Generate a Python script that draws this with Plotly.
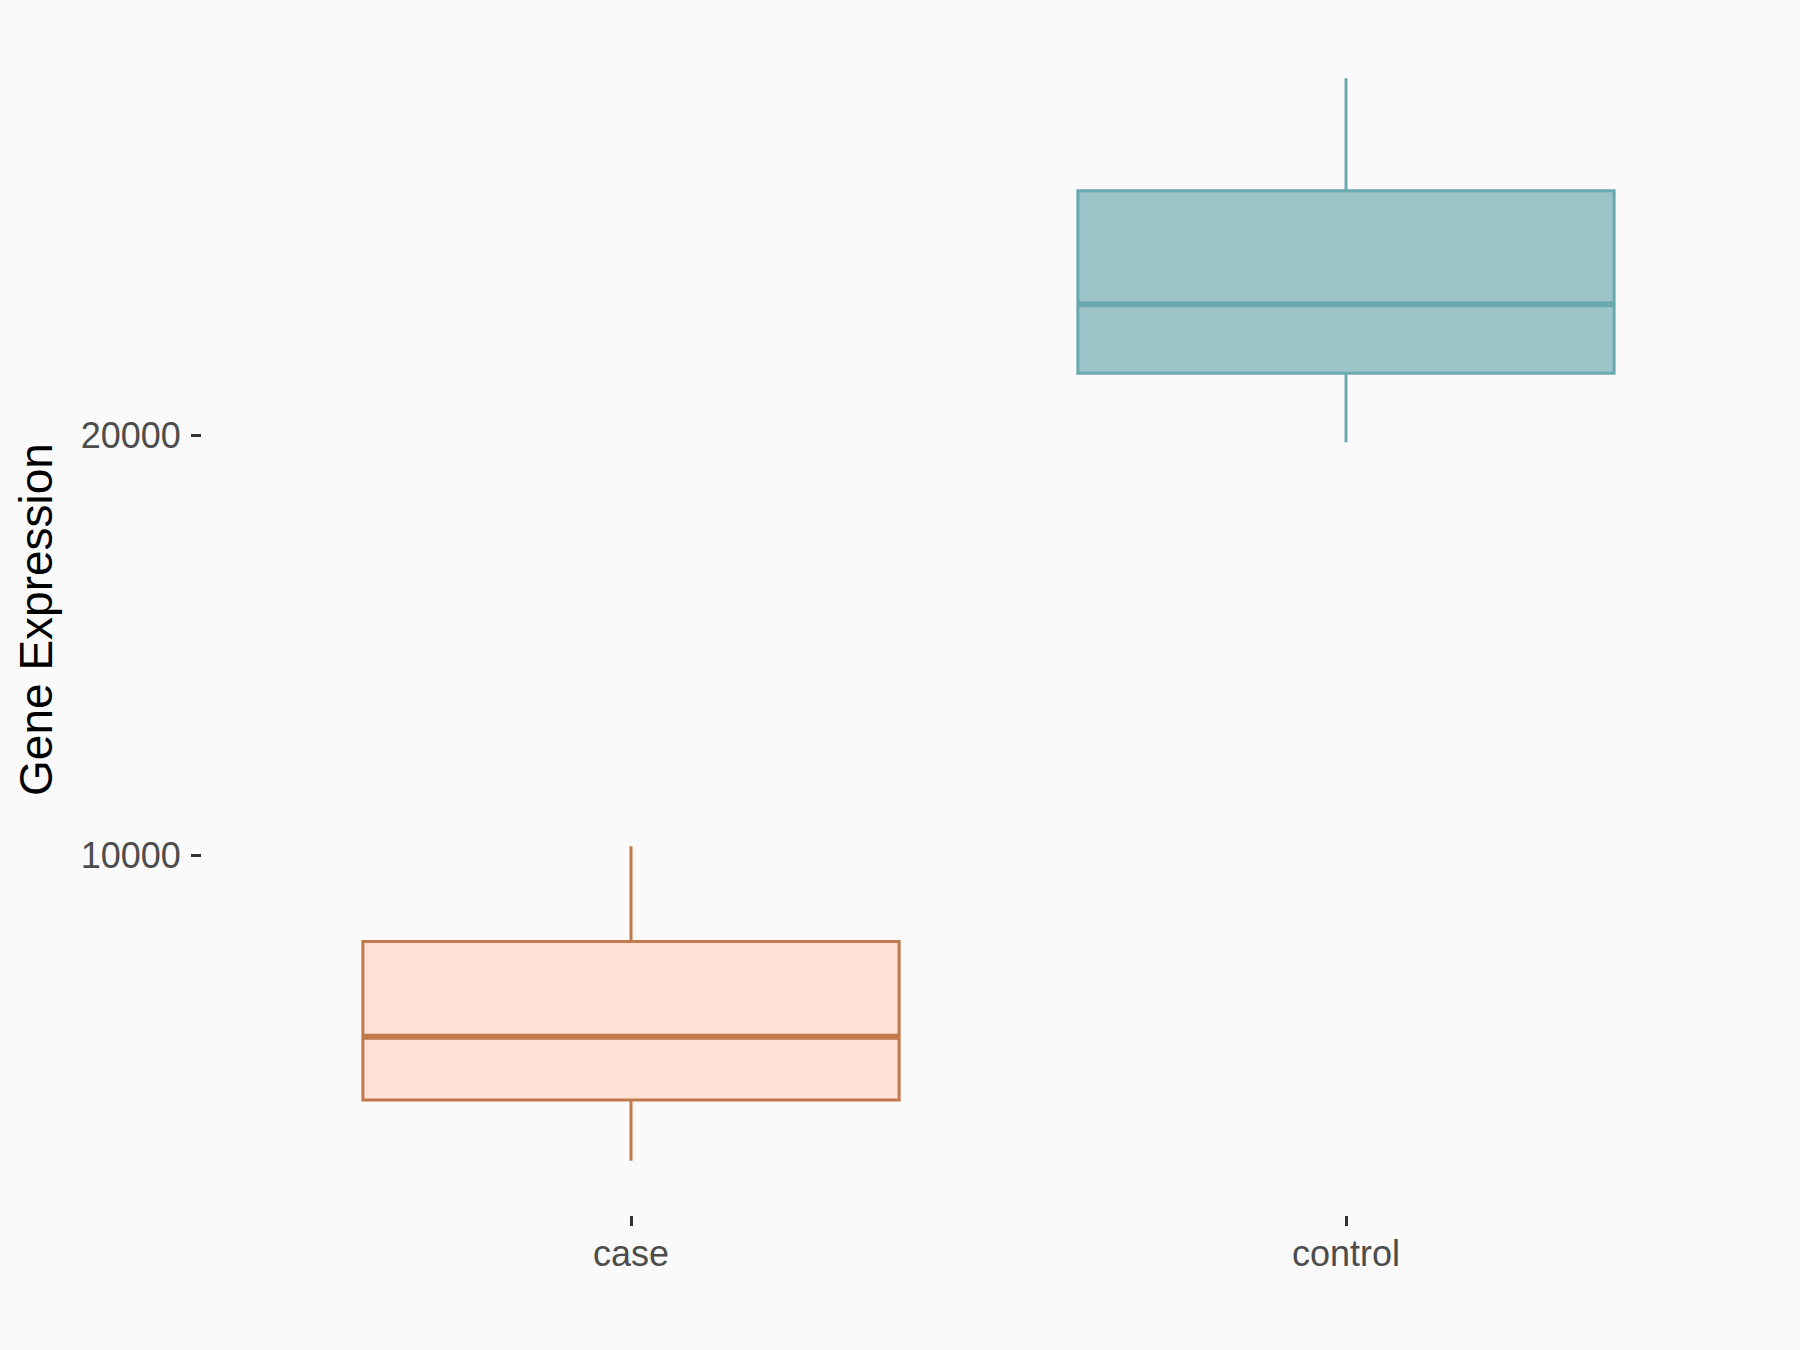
import plotly.graph_objects as go

# box statistics
groups = ["case", "control"]
lower_whisker = [2737, 19833]
q1 = [4183, 21473]
median = [5687, 23112]
q3 = [7952, 25814]
upper_whisker = [10221, 28491]

fill_colors = ["#FEE0D5", "#9DC4C8"]
line_colors = ["#C1784A", "#6AA9B0"]
box_width = 0.75

fig = go.Figure()
for i, name in enumerate(groups):
    pos = i + 1
    fig.add_trace(
        go.Box(
            x=[pos],
            q1=[q1[i]],
            median=[median[i]],
            q3=[q3[i]],
            lowerfence=[lower_whisker[i]],
            upperfence=[upper_whisker[i]],
            name=name,
            width=box_width,
            whiskerwidth=0,
            fillcolor=fill_colors[i],
            line={"color": line_colors[i], "width": 3},
            boxpoints=False,
            hoverinfo="y",
        )
    )
    # thicker median bar, as in ggplot
    fig.add_trace(
        go.Scatter(
            x=[pos - box_width / 2, pos + box_width / 2],
            y=[median[i], median[i]],
            mode="lines",
            line={"color": line_colors[i], "width": 6},
            hoverinfo="skip",
        )
    )

lo = min(lower_whisker)
hi = max(upper_whisker)
pad = 0.05 * (hi - lo)

fig.update_layout(
    width=1800,
    height=1350,
    showlegend=False,
    paper_bgcolor="#FAFAFA",
    plot_bgcolor="#FAFAFA",
    margin={"l": 202, "r": 25, "t": 24, "b": 135},
    font={"family": "Liberation Sans, Arial, sans-serif", "color": "#4D4D4D", "size": 36},
)
fig.update_xaxes(
    range=[0.4, 2.6],
    tickvals=[1, 2],
    ticktext=groups,
    showgrid=False,
    zeroline=False,
    showline=False,
    ticks="outside",
    ticklen=10,
    tickwidth=2.5,
    tickcolor="#333333",
    ticklabelstandoff=-3,
)
fig.update_yaxes(
    range=[lo - pad, hi + pad],
    tickvals=[10000, 20000],
    tickformat="d",
    showgrid=False,
    zeroline=False,
    showline=False,
    ticks="outside",
    ticklen=10,
    tickwidth=2.5,
    tickcolor="#333333",
    ticklabelstandoff=3,
    title={"text": "Gene Expression", "font": {"size": 46, "color": "#000000"}, "standoff": 13},
)

fig.write_html(
    "out.html",
    config={"displayModeBar": False},
    post_script="document.body.style.margin='0';document.body.style.background='#FAFAFA';",
)
